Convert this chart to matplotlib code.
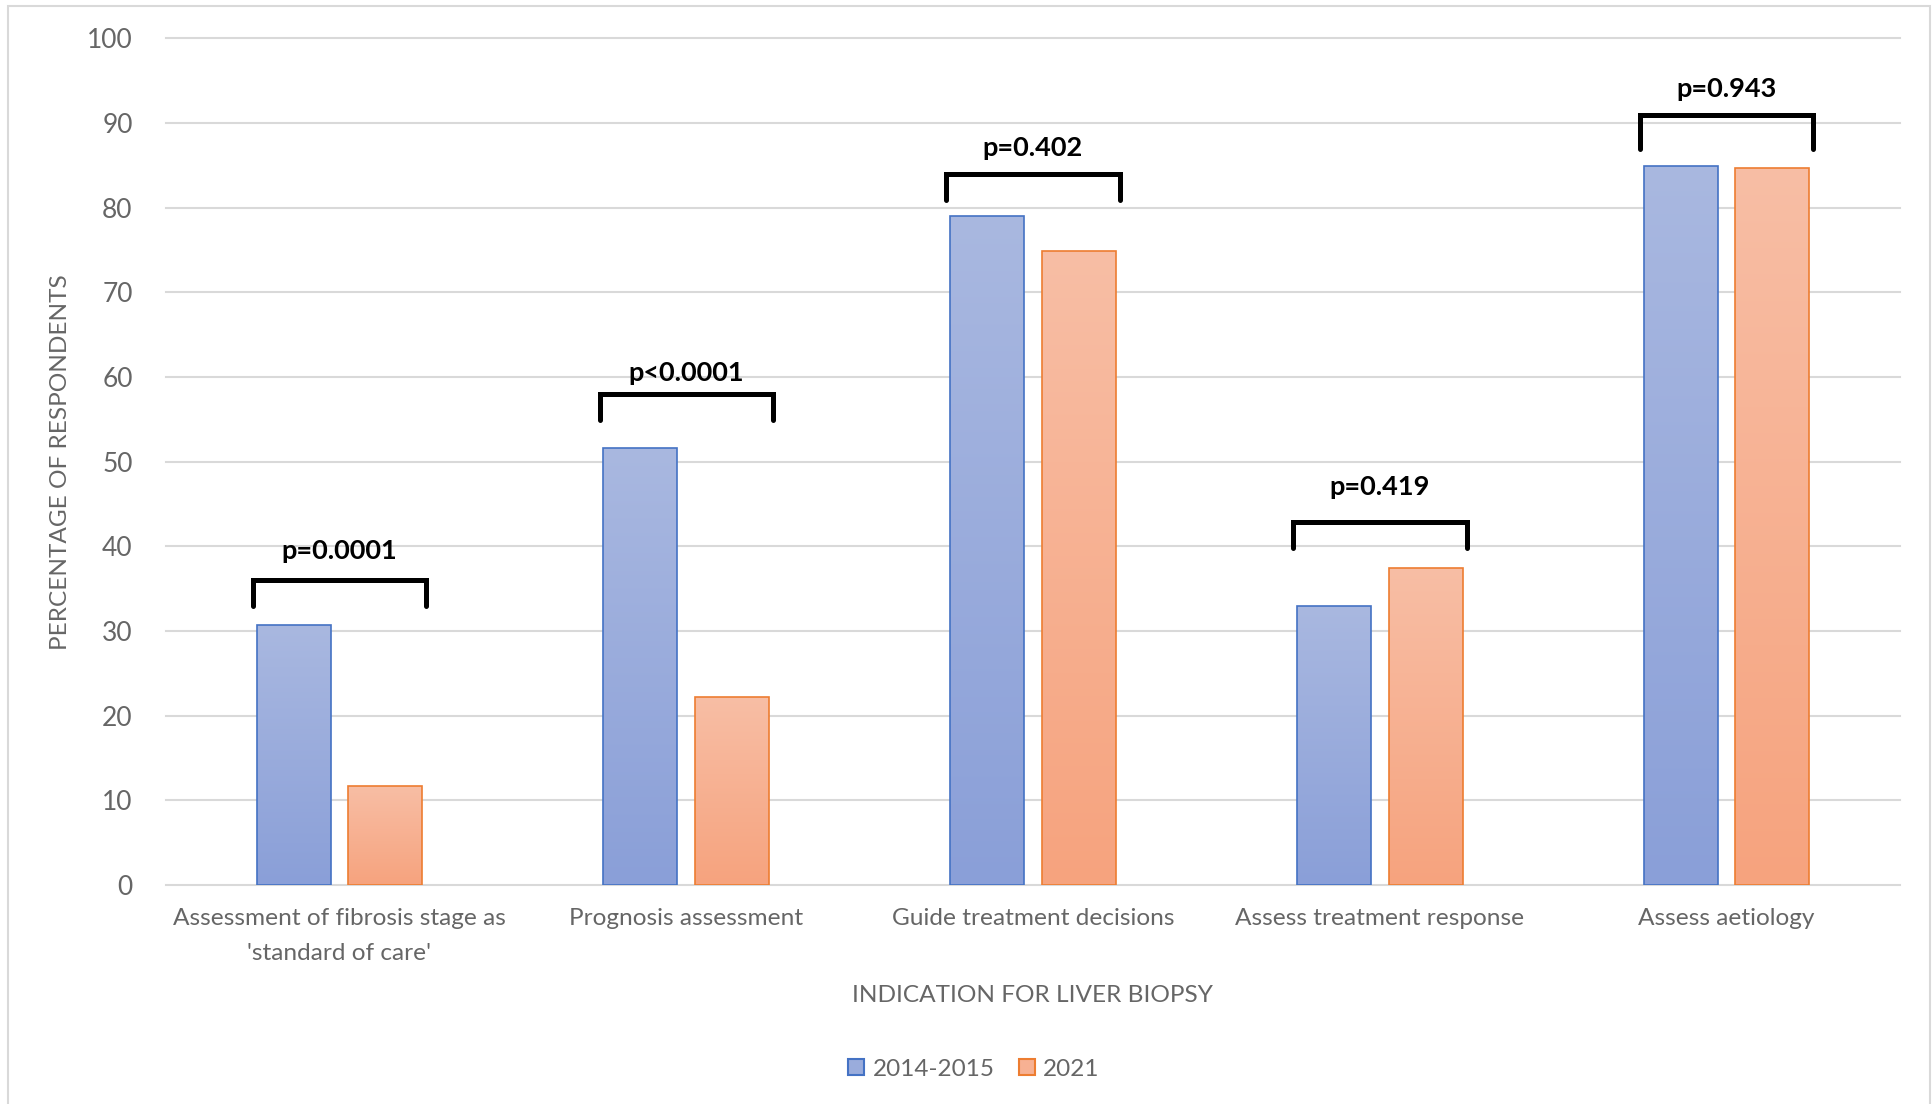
import numpy as np
import matplotlib
matplotlib.use('Agg')
from matplotlib import pyplot as plt
from matplotlib.colors import LinearSegmentedColormap
from matplotlib.patches import Patch, Rectangle

categories = ["Assessment of fibrosis stage as\n'standard of care'", 'Prognosis assessment',
              'Guide treatment decisions', 'Assess treatment response', 'Assess aetiology']
series_names = ['2014-2015', '2021']
vals_2014 = [30.7, 51.6, 79.0, 33.0, 84.9]
vals_2021 = [11.7, 22.2, 74.9, 37.5, 84.7]
p_labels = ['p=0.0001', 'p<0.0001', 'p=0.402', 'p=0.419', 'p=0.943']
bracket_top = [36.0, 58.0, 84.0, 42.9, 91.0]
bracket_bottom = [32.9, 54.9, 80.9, 39.8, 86.9]
label_base = [38.5, 59.5, 86.1, 46.1, 93.1]

plt.rcParams['font.family'] = ['Lato', 'DejaVu Sans']
grey = '#666666'

W, H = 1933, 1104
fig = plt.figure(figsize=(W / 100, H / 100), dpi=100)
ax = fig.add_axes([166 / W, (H - 885) / H, (1900 - 166) / W, (885 - 38.4) / H])

x = np.arange(len(categories))
width = 0.213
offset = 0.132

blue_cmap = LinearSegmentedColormap.from_list('b', ['#8A9FD8', '#A9B8E0'])
orange_cmap = LinearSegmentedColormap.from_list('o', ['#F6A37E', '#F8BEA5'])
grad = np.linspace(0, 1, 256).reshape(-1, 1)

for vals, off, edge, cmap in [(vals_2014, -offset, '#4472C4', blue_cmap),
                              (vals_2021, offset, '#ED7D31', orange_cmap)]:
    bars = ax.bar(x + off, vals, width, facecolor='none', edgecolor=edge,
                  linewidth=1.2, zorder=3)
    for b in bars:
        x0, w, h = b.get_x(), b.get_width(), b.get_height()
        im = ax.imshow(grad, cmap=cmap, origin='lower', aspect='auto',
                       extent=[x0, x0 + w, 0, h], zorder=2)
        im.set_clip_path(b)

for i in range(len(categories)):
    ax.plot([i - 0.25, i - 0.25, i + 0.25, i + 0.25],
            [bracket_bottom[i], bracket_top[i], bracket_top[i], bracket_bottom[i]],
            color='black', lw=3.6, solid_capstyle='round', solid_joinstyle='miter',
            zorder=4)
    ax.text(i, label_base[i], p_labels[i], ha='center', va='baseline',
            fontsize=19.5, fontweight='bold', color='black', zorder=5)

ax.set_xlim(-0.5, 4.5)
ax.set_ylim(0, 100)
ax.set_yticks(range(0, 101, 10))
ax.set_xticks(x)
ax.set_xticklabels(categories, fontsize=17.6, color=grey, linespacing=1.8)
ax.tick_params(axis='y', length=0, pad=24, labelsize=19, labelcolor=grey)
ax.tick_params(axis='x', length=0, pad=16.5)
for s in ax.spines.values():
    s.set_visible(False)
ax.grid(axis='y', color='#D9D9D9', linewidth=1.5)
ax.set_axisbelow(True)
for gl in ax.get_ygridlines():
    gl.set_clip_on(False)

fig.text(61 / W, 1 - 462 / H, 'PERCENTAGE OF RESPONDENTS', rotation=90,
         ha='center', va='center', fontsize=17.6, color=grey)
fig.text(1032 / W, 1 - 996 / H, 'INDICATION FOR LIVER BIOPSY',
         ha='center', va='center', fontsize=17.6, color=grey)

handles = [Patch(facecolor='#9AACDC', edgecolor='#4472C4', linewidth=1.5),
           Patch(facecolor='#F7B193', edgecolor='#ED7D31', linewidth=1.5)]
fig.legend(handles, series_names, loc='center', bbox_to_anchor=(974 / W, 1 - 1069 / H),
           ncol=2, frameon=False, fontsize=17.5, labelcolor=grey,
           handlelength=0.65, handleheight=0.65, handletextpad=0.35,
           columnspacing=1.0, borderpad=0)

fig.patches.append(Rectangle((8 / W, -0.01), (1930 - 8) / W, 1.01 - 6 / H,
                             transform=fig.transFigure, fill=False,
                             edgecolor='#D9D9D9', linewidth=1.5))

fig.savefig('out.png', dpi=100)
